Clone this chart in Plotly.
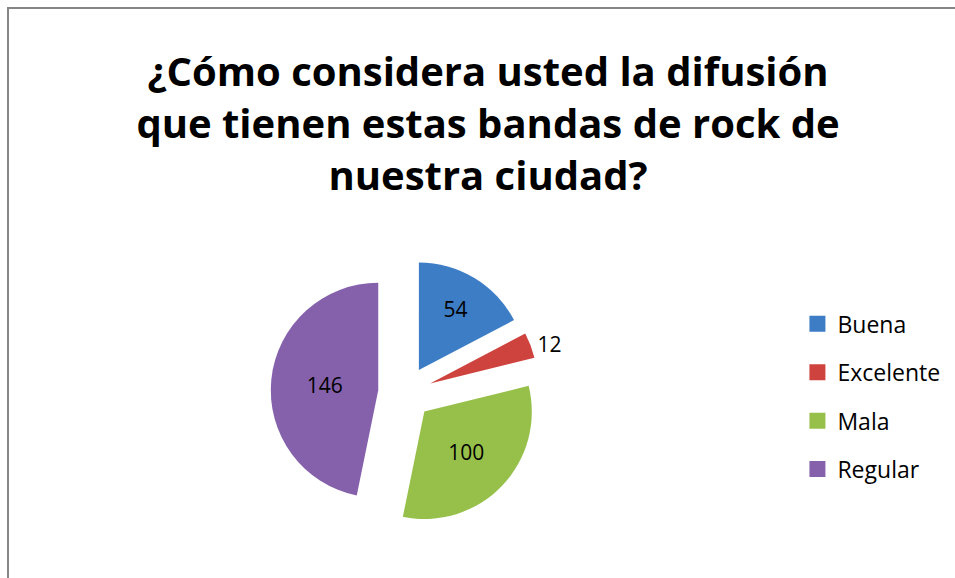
import plotly.graph_objects as go

labels = ["Buena", "Excelente", "Mala", "Regular"]
values = [54, 12, 100, 146]
colors = ["#3D7DC6", "#CF433E", "#97C04A", "#8561AC"]
title_lines = ["¿Cómo considera usted la difusión",
               "que tienen estas bandas de rock de",
               "nuestra ciudad?"]

W, H = 955, 578
FONT = "Open Sans"

fig = go.Figure()
fig.add_trace(go.Pie(
    labels=labels, values=values, sort=False, direction="clockwise", rotation=0,
    marker=dict(colors=colors, line=dict(width=0)),
    pull=[0.25] * len(values),
    textinfo="value",
    textposition=["inside", "outside", "inside", "inside"],
    insidetextorientation="horizontal",
    textfont=dict(family=FONT, size=21, color="black"),
    insidetextfont=dict(family=FONT, size=21, color="black"),
    outsidetextfont=dict(family=FONT, size=21, color="black"),
    domain=dict(x=[0.2827, 0.5654], y=[0.0830, 0.5502]),
    showlegend=False, hoverinfo="label+value+percent",
))

for lab, col in zip(labels, colors):
    fig.add_trace(go.Scatter(
        x=[None], y=[None], mode="markers", name=lab, legendgroup=lab,
        marker=dict(symbol="square", size=16, color=col),
        showlegend=True,
    ))

fig.update_layout(
    width=W, height=H,
    margin=dict(l=0, r=0, t=0, b=0),
    paper_bgcolor="white", plot_bgcolor="white",
    xaxis=dict(visible=False), yaxis=dict(visible=False),
    title=dict(text="<br>".join(title_lines),
               font=dict(family=FONT, size=40, color="black", weight="bold"),
               x=0.511, xanchor="center", y=1 - 86 / H, yanchor="top",
               xref="paper", yref="paper"),
    legend=dict(x=0.835, xanchor="left", y=1 - 304 / H, yanchor="top",
                font=dict(family=FONT, size=23, color="black"),
                traceorder="grouped", tracegroupgap=15.5,
                bgcolor="rgba(0,0,0,0)"),
    shapes=[dict(type="rect", xref="paper", yref="paper",
                 x0=8 / W, y0=-0.05, x1=1.05, y1=1 - 8 / H,
                 line=dict(color="#868686", width=2), fillcolor="rgba(0,0,0,0)",
                 layer="below")],
)

fig.write_html("out.html")
